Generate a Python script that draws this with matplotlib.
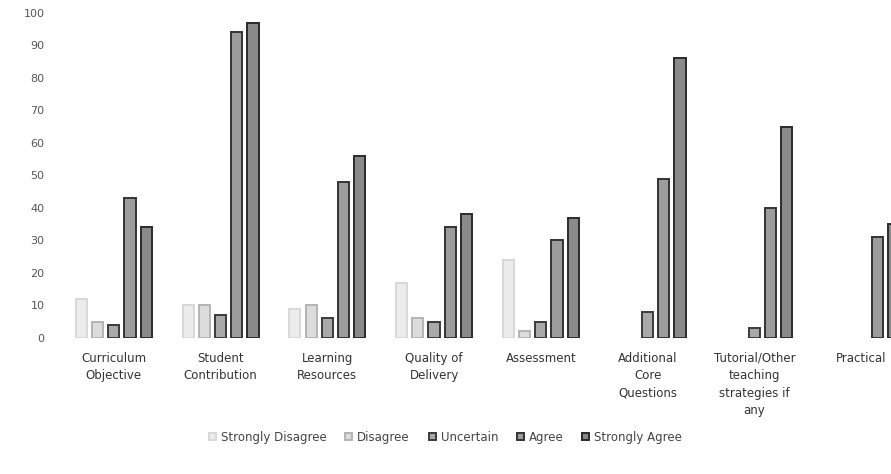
import matplotlib.pyplot as plt
import numpy as np

categories = ['Curriculum\nObjective', 'Student\nContribution', 'Learning\nResources',
              'Quality of\nDelivery', 'Assessment', 'Additional\nCore\nQuestions',
              'Tutorial/Other\nteaching\nstrategies if\nany', 'Practical']
series = ['Strongly Disagree', 'Disagree', 'Uncertain', 'Agree', 'Strongly Agree']

strongly_disagree = [12, 10, 9, 17, 24, 0, 0, 0]
disagree = [5, 10, 10, 6, 2, 0, 0, 0]
uncertain = [4, 7, 6, 5, 5, 8, 3, 0]
agree = [43, 94, 48, 34, 30, 49, 40, 31]
strongly_agree = [34, 97, 56, 38, 37, 86, 65, 35]

values = [strongly_disagree, disagree, uncertain, agree, strongly_agree]
faces = ['#ececec', '#dcdcdc', '#a9a9a9', '#9c9c9c', '#8a8a8a']
edges = ['#d8d8d8', '#b4b4b4', '#3a3a3a', '#333333', '#2b2b2b']

fig = plt.figure(figsize=(8.91, 4.74), dpi=100)
ax = fig.add_axes([50 / 891, 0.287, 841 / 891, 0.6857])

x = np.arange(len(categories))
step = 0.152
w = 0.105
for i, (vals, name) in enumerate(zip(values, series)):
    bars = ax.bar(x + (i - 2) * step, vals, width=w, color=faces[i],
                  edgecolor=edges[i], linewidth=1.4, label=name)
    # empty answers get no outline
    for b, v in zip(bars, vals):
        if v == 0:
            b.set_linewidth(0)

ax.set_xlim(-0.598, 7.28)
ax.set_ylim(0, 100)
ax.set_yticks(np.arange(0, 101, 10))
ax.tick_params(axis='y', length=0, labelsize=8, labelcolor='#555555', pad=4)
ax.set_xticks(x)
ax.set_xticklabels(categories, fontsize=8.5, color='#333333', linespacing=1.45)
ax.tick_params(axis='x', length=0, pad=10)
for s in ax.spines.values():
    s.set_visible(False)

leg = fig.legend(loc='center', bbox_to_anchor=(0.5, 0.078), ncol=5, frameon=False,
                 fontsize=8.5, handlelength=0.6, handleheight=0.6,
                 handletextpad=0.4, columnspacing=1.6)
for t in leg.get_texts():
    t.set_color('#444444')

fig.savefig('out.png', dpi=100)
